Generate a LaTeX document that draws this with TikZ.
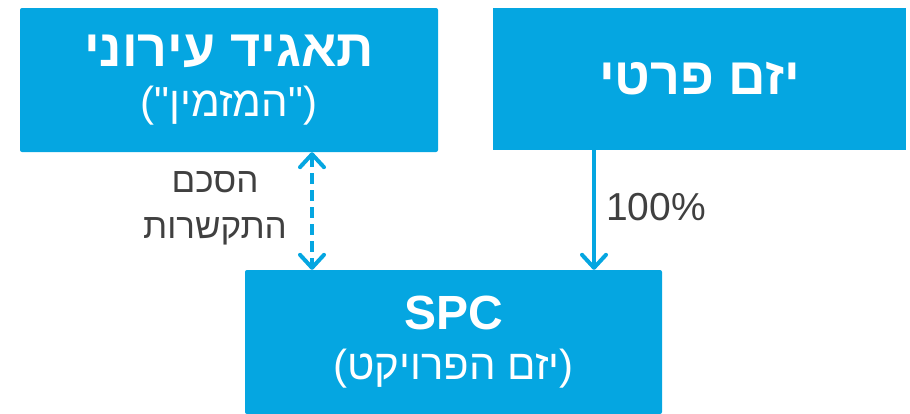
\documentclass[tikz,border=0pt]{standalone}
\usepackage{fontspec}
\setmainfont{Liberation Sans}
\newfontfamily\hebfont[Script=Hebrew]{Liberation Sans}
\newfontfamily\plainfont{Liberation Sans}
\TeXXeTstate=1
\usetikzlibrary{arrows.meta}
\definecolor{boxblue}{RGB}{5,166,225}
\definecolor{labelgray}{RGB}{64,64,64}
% punctuation set left to right, outside the Hebrew runs, straight quotes kept
\newcommand{\ltrpunct}[1]{{\plainfont #1}}

\begin{document}
\begin{tikzpicture}[x=1pt,y=-1pt,
  box/.style={fill=boxblue, draw=none, rounded corners=2pt, text=white,
    align=center, inner sep=0pt,
    font=\hebfont\fontsize{42}{50}\selectfont},
  lbl/.style={text=labelgray, align=center, inner sep=0pt,
    font=\hebfont\fontsize{35}{46}\selectfont},
  link/.style={draw=boxblue, line width=4pt,
    -{Straight Barb[length=13pt, width=24pt, round]}},
  twoway/.style={draw=boxblue, line width=4pt, dash pattern=on 11pt off 6pt,
    {Straight Barb[length=13pt, width=24pt, round]}-{Straight Barb[length=13pt, width=24pt, round]}}
]
\useasboundingbox (0,0) rectangle (910,413);
\clip (0,0) rectangle (910,413);

% the three parties
\node[box, minimum width=418pt, minimum height=144pt] (city) at (229,80)
  {{\hebfont\fontsize{52}{50}\selectfont\bfseries\beginR תאגיד עירוני\endR}\\
   \ltrpunct{("}\beginR המזמין\endR\ltrpunct{")}};
\node[box, sharp corners, minimum width=413pt, minimum height=142pt] (investor) at (699.5,79)
  {{\hebfont\fontsize{52}{50}\selectfont\bfseries\beginR יזם פרטי\endR}};
\node[box, minimum width=417pt, minimum height=144pt] (spc) at (453.5,342)
  {{\rmfamily\fontsize{48}{50}\selectfont\bfseries SPC}\\
   \ltrpunct{(}\beginR יזם הפרויקט\endR\ltrpunct{)}};

% connectors
\coordinate (xa) at (312,0);
\coordinate (xb) at (594,0);
\draw[twoway] (city.south -| xa) -- (spc.north -| xa);
\draw[link] (investor.south -| xb) -- (spc.north -| xb);

% connector labels
\node[lbl] (agreement) at (215,208) {\beginR הסכם\endR\\\beginR התקשרות\endR};
\node[lbl, anchor=west, font=\rmfamily\fontsize{39}{46}\selectfont] (share) at (606,207) {100\%};
\end{tikzpicture}
\end{document}
